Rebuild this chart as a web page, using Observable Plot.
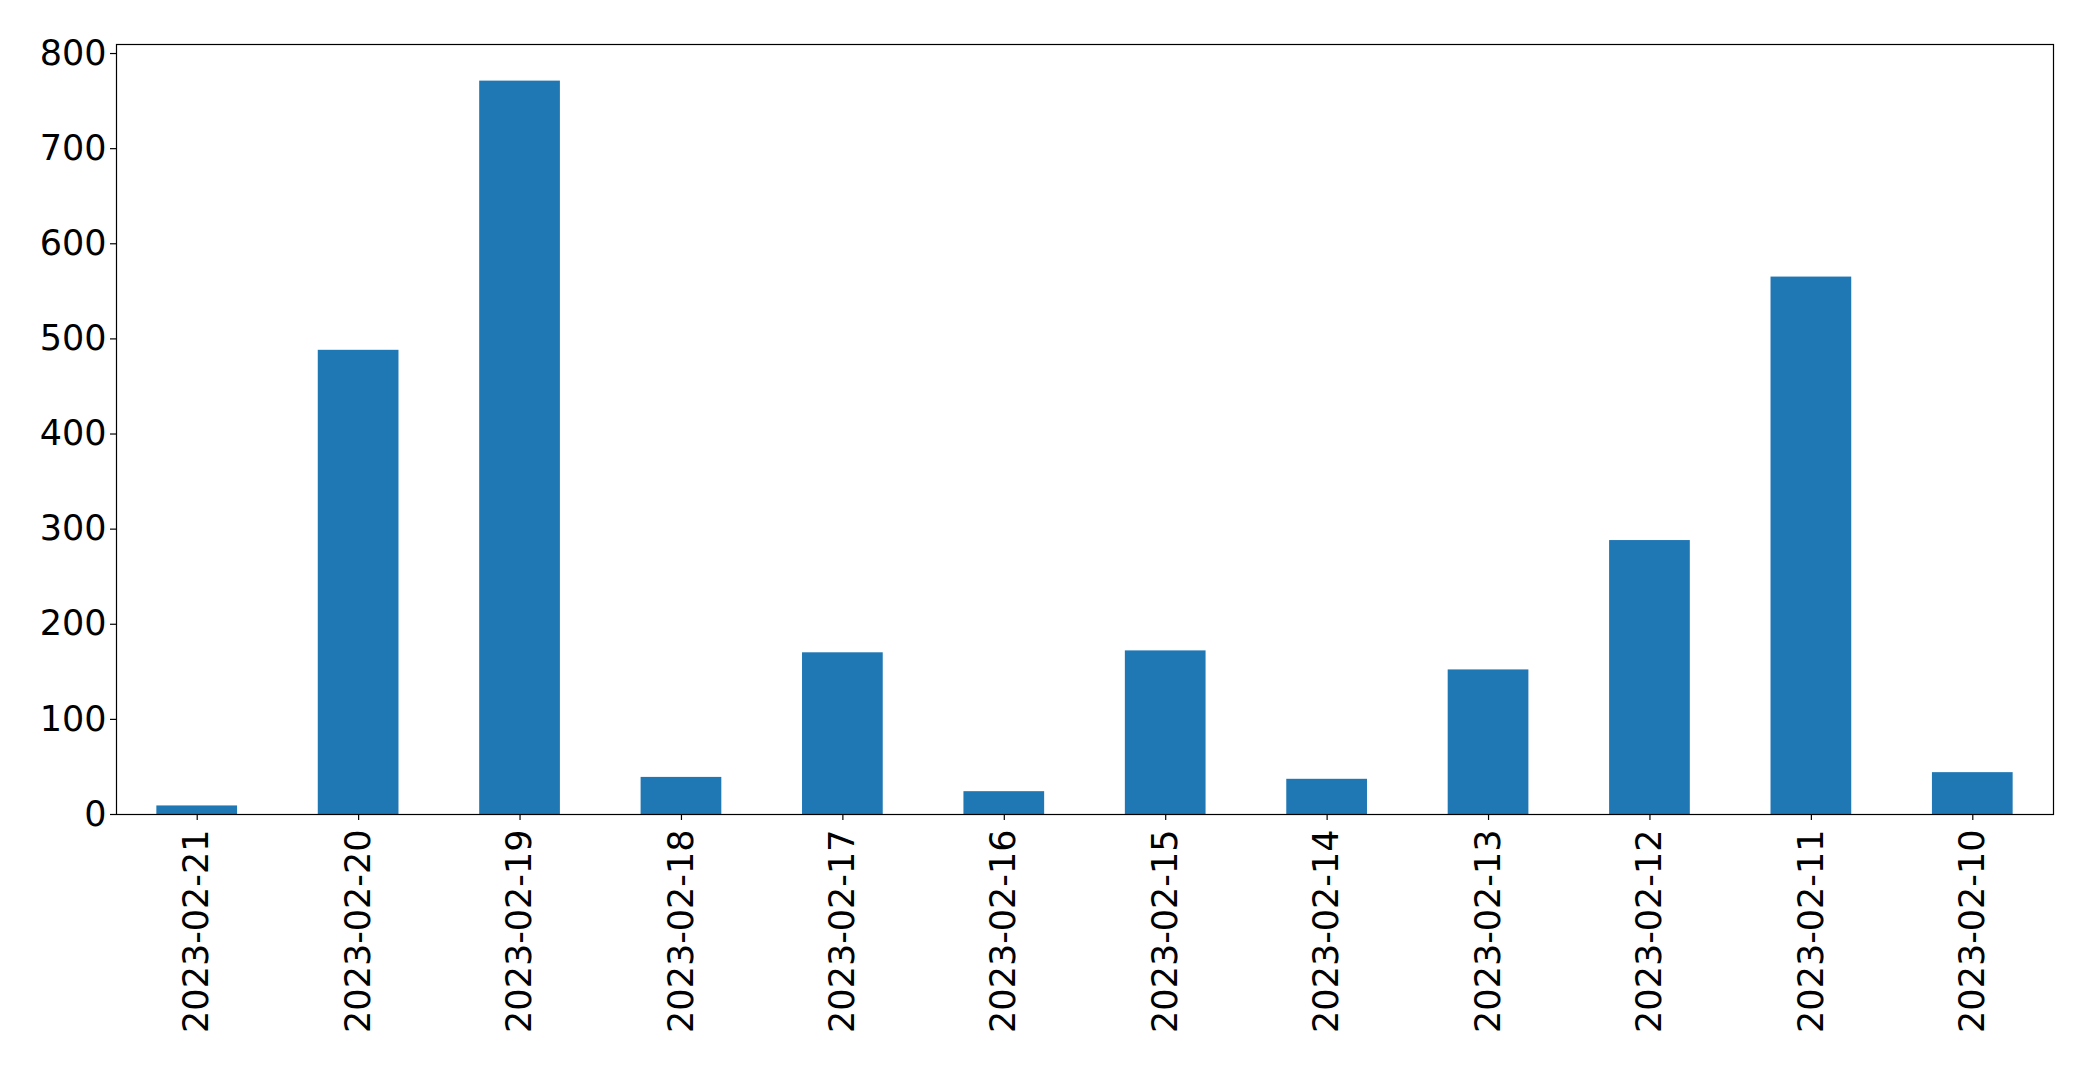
<!DOCTYPE html>
<html>
<head>
<meta charset="utf-8">
<script src="https://cdn.jsdelivr.net/npm/d3@7"></script>
<script src="https://cdn.jsdelivr.net/npm/@observablehq/plot@0.6"></script>
<style>
  html, body { margin: 0; padding: 0; background: #fff; }
  #chart svg { display: block; }
</style>
</head>
<body>
<div id="chart"></div>
<script>
const dates = ["2023-02-21","2023-02-20","2023-02-19","2023-02-18","2023-02-17","2023-02-16","2023-02-15","2023-02-14","2023-02-13","2023-02-12","2023-02-11","2023-02-10"];
const counts = [9, 488, 771, 39, 170, 24, 172, 37, 152, 288, 565, 44];
const yTicks = [0, 100, 200, 300, 400, 500, 600, 700, 800];

const data = dates.map((d, i) => ({date: d, count: counts[i]}));

const chart = Plot.plot({
  width: 2093,
  height: 1066,
  marginLeft: 116,
  marginRight: 40,
  marginTop: 44,
  marginBottom: 252,
  style: {background: "#fff", color: "#000", fontFamily: "'DejaVu Sans', sans-serif", fontSize: "35px"},
  x: {type: "band", domain: dates, paddingInner: 0.5, paddingOuter: 0.25, round: false, label: null},
  y: {domain: [0, 809.5], label: null},
  marks: [
    Plot.barY(data, {x: "date", y: "count", fill: "#1f77b4"}),
    Plot.axisY({ticks: yTicks, tickSize: 6, tickPadding: 4, fontSize: 35, label: null, stroke: "#000", strokeWidth: 1.2}),
    Plot.axisX({tickSize: 6, tickPadding: 9, tickRotate: -90, fontSize: 35, label: null, stroke: "#000", strokeWidth: 1.2}),
    Plot.frame({stroke: "#000", strokeWidth: 1.2})
  ]
});
document.getElementById("chart").appendChild(chart);
</script>
</body>
</html>
